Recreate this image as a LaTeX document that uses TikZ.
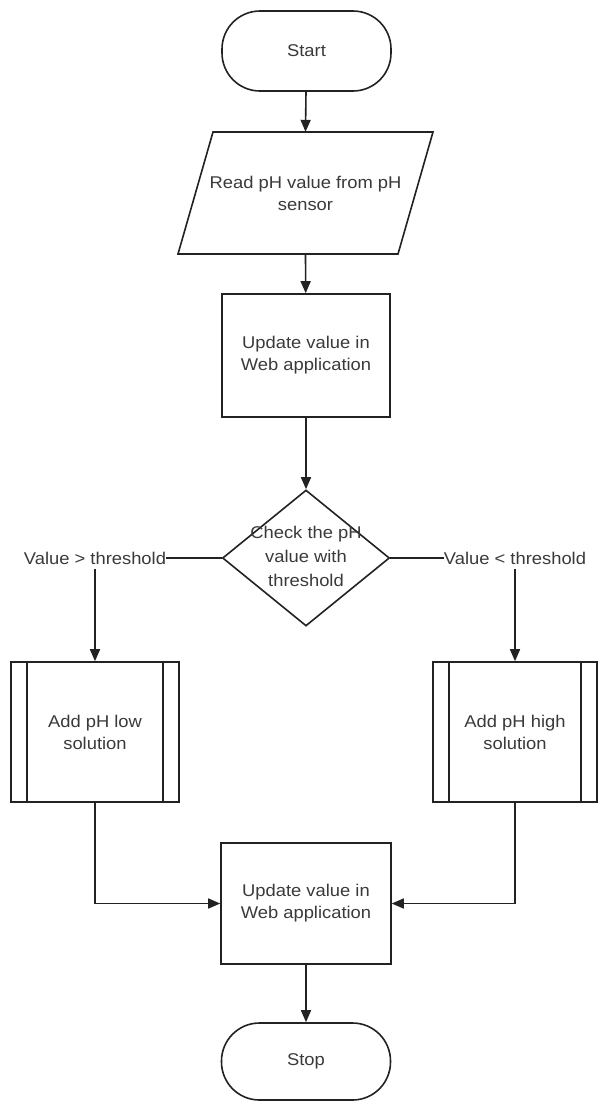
\documentclass[tikz,border=0pt]{standalone}
\usepackage{fontspec}
\setmainfont[FakeStretch=1.08]{Liberation Sans}
\usetikzlibrary{shapes.geometric,arrows.meta}
\definecolor{ink}{HTML}{222222}
\definecolor{txtgray}{HTML}{3A3A3A}
\begin{document}
\begin{tikzpicture}[x=1pt,y=-1pt,
  every node/.style={font=\fontsize{17}{22}\selectfont, text=txtgray, align=center, inner sep=0pt},
  outline/.style={draw=ink, line width=1.6pt},
  terminal/.style={outline, rectangle, rounded corners=38pt, minimum width=169pt, minimum height=80pt},
  procbox/.style={outline, rectangle, minimum width=168pt},
  subproc/.style={outline, rectangle, minimum width=164pt, minimum height=140pt},
  flow/.style={draw=ink, line width=1.6pt, -{Triangle[length=12pt,width=10pt]}},
  plain/.style={draw=ink, line width=1.6pt}]

  % page area
  \fill[white] (0,0) rectangle (598,1104);
  \useasboundingbox (0,0) rectangle (598,1104);

  % start / read
  \node[terminal] (start) at (306.5,51) {Start};
  \node[minimum width=220pt, minimum height=122pt] (read) at (305.5,193) {Read pH value from pH\\sensor};
  \draw[outline, line join=miter] (213,132) -- (433,132) -- (398,254) -- (178,254) -- cycle;

  % first update
  \node[procbox, minimum height=123pt] (upd1) at (306,355.5) {Update value in\\Web application};

  % decision
  \node[outline, diamond, minimum width=167pt, minimum height=136pt] (chk) at (306,558) {};
  \node[font=\fontsize{17}{24}\selectfont] (chktxt) at (306,556) {Check the pH\\value with\\threshold};

  % branch labels
  \node (gt) at (95,558) {Value > threshold};
  \node (lt) at (515,558) {Value < threshold};

  % predefined processes
  \node[subproc, minimum width=168pt] (low) at (95,732) {Add pH low\\solution};
  \draw[plain] ([xshift=17pt]low.north west) -- ([xshift=17pt]low.south west);
  \draw[plain] ([xshift=-17pt]low.north east) -- ([xshift=-17pt]low.south east);

  \node[subproc] (high) at (515,732) {Add pH high\\solution};
  \draw[plain] ([xshift=17pt]high.north west) -- ([xshift=17pt]high.south west);
  \draw[plain] ([xshift=-17pt]high.north east) -- ([xshift=-17pt]high.south east);

  % second update / stop
  \node[procbox, minimum width=170pt, minimum height=121pt] (upd2) at (306,903.5) {Update value in\\Web application};
  \node[terminal, minimum height=77pt] (stop) at (306,1061.5) {Stop};

  % connectors
  \draw[flow] (start) -- (read.north);
  \draw[flow] (read.south) -- (upd1);
  \draw[flow] (upd1) -- (chk);
  \draw[plain] (chk.west) -- (gt.east);
  \draw[plain] (chk.east) -- (lt.west);
  \draw[flow] ([yshift=-5pt]gt.south) -- (low.north);
  \draw[flow] ([yshift=-5pt]lt.south) -- (high.north);
  \draw[flow] (low.south) |- (upd2.west);
  \draw[flow] (high.south) |- (upd2.east);
  \draw[flow] (upd2) -- (stop);
\end{tikzpicture}
\end{document}
